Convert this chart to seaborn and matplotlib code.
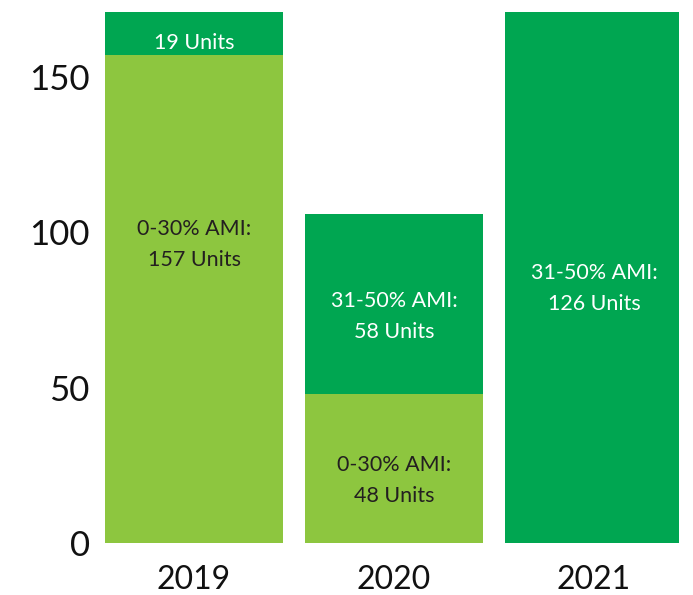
import matplotlib
matplotlib.use("Agg")
import matplotlib.pyplot as plt
import seaborn as sns
import pandas as pd

# data
years = ["2019", "2020", "2021"]
low_units = [157, 48, 0]          # 0-30% AMI (light green)
mid_units = [19, 58, 126]         # 31-50% AMI (dark green), label values
mid_drawn = [19, 58, 176]         # dark segment as drawn (2021 bar runs past the top)
label_texts = [
    ["0-30% AMI:\n157 Units", "19 Units"],
    ["0-30% AMI:\n48 Units", "31-50% AMI:\n58 Units"],
    [None, "31-50% AMI:\n126 Units"],
]
label_y = [[96, 161], [20, 73], [None, 82]]
y_ticks = [0, 50, 100, 150]

light = "#8DC63F"
dark = "#00A651"

df = pd.DataFrame({
    "year": years,
    "low": low_units,
    "total": [a + b for a, b in zip(low_units, mid_drawn)],
})

sns.set_style("white")
plt.rcParams["font.family"] = ["Lato", "DejaVu Sans"]

fig = plt.figure(figsize=(6.93, 5.95), dpi=100)
ax = fig.add_axes([105 / 693, 52 / 595, (679 - 105) / 693, (543 - 12) / 595])

# stacked bars: total in dark green, then low tier on top in light green
sns.barplot(ax=ax, data=df, x="year", y="total", color=dark, saturation=1,
            width=0.89, errorbar=None, linewidth=0)
sns.barplot(ax=ax, data=df, x="year", y="low", color=light, saturation=1,
            width=0.89, errorbar=None, linewidth=0)

for i, (texts, ys) in enumerate(zip(label_texts, label_y)):
    for j, (t, y) in enumerate(zip(texts, ys)):
        if t is None:
            continue
        ax.text(i, y, t, ha="center", va="center", fontsize=15.5,
                color="#231F20" if j == 0 else "white", linespacing=1.7)

ax.set_ylim(0, 171)
ax.set_xlim(-0.445, 2.425)
ax.set_yticks(y_ticks)
ax.set_xlabel("")
ax.set_ylabel("")
ax.tick_params(axis="y", labelsize=25, length=0, pad=11, colors="#111111")
ax.tick_params(axis="x", labelsize=23, length=0, pad=16, colors="#111111")
sns.despine(ax=ax, left=True, bottom=True)
ax.grid(False)

fig.savefig("out.png", dpi=100)
